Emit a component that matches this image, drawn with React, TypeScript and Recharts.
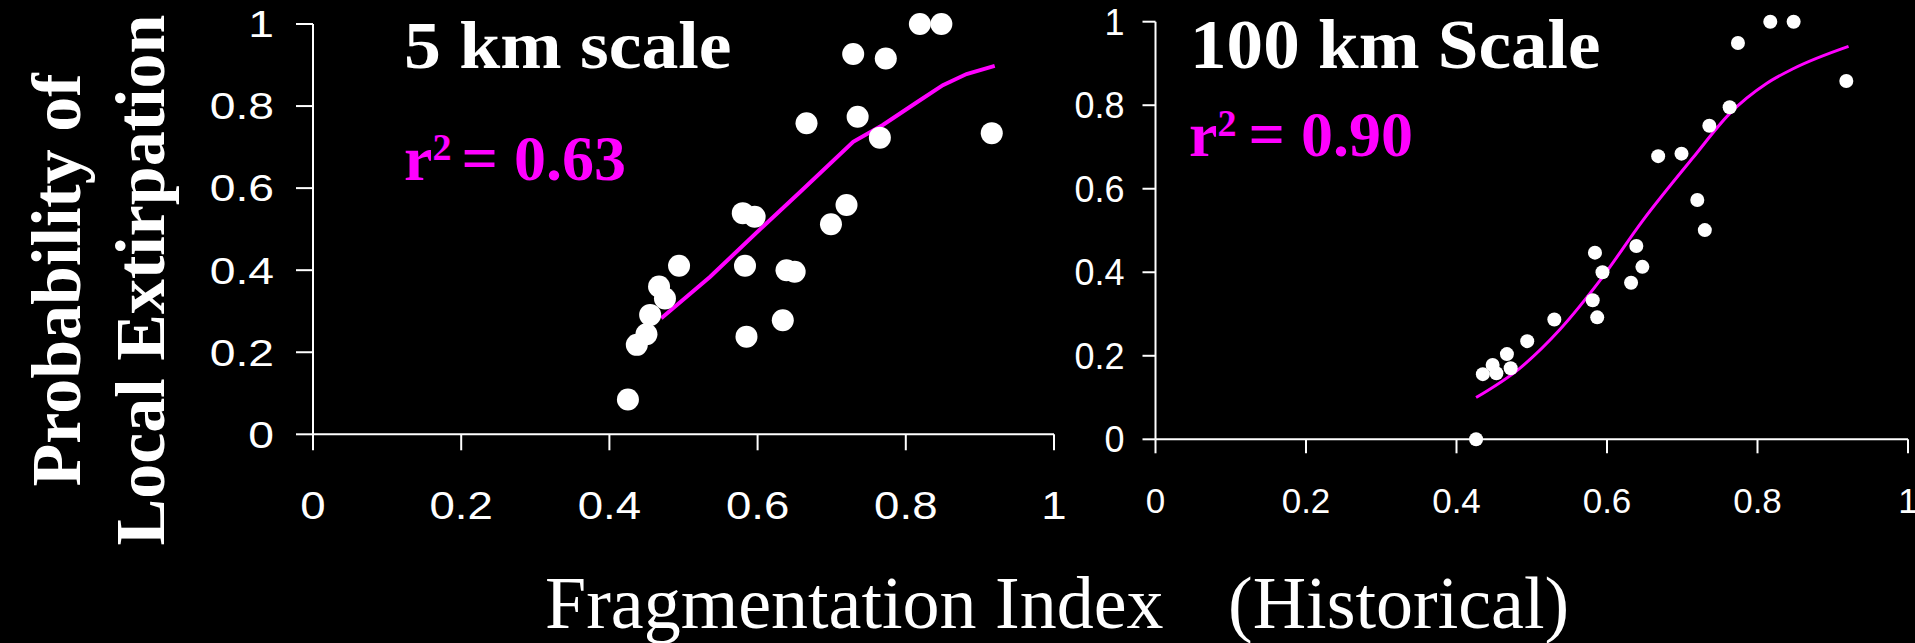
import React from 'react';
import { ComposedChart, Scatter, XAxis, YAxis } from 'recharts';

// ---------- data ----------
const axisTicks = [0, 0.2, 0.4, 0.6, 0.8, 1];

// 5 km scale observations
const km5X = [0.425, 0.437, 0.45, 0.455, 0.467, 0.475, 0.494, 0.58, 0.583, 0.585, 0.596, 0.634, 0.639, 0.65, 0.666, 0.699, 0.72, 0.729, 0.735, 0.765, 0.773, 0.819, 0.848, 0.916];
const km5Y = [0.085, 0.218, 0.244, 0.291, 0.36, 0.331, 0.411, 0.539, 0.411, 0.238, 0.53, 0.278, 0.4, 0.396, 0.758, 0.512, 0.559, 0.927, 0.774, 0.723, 0.916, 1.0, 1.0, 0.734];
// 5 km fitted curve
const km5FitX = [0.47, 0.536, 0.607, 0.657, 0.729, 0.769, 0.814, 0.85, 0.882, 0.92];
const km5FitY = [0.283, 0.384, 0.506, 0.59, 0.713, 0.754, 0.808, 0.851, 0.878, 0.898];

// 100 km scale observations
const km100X = [0.426, 0.435, 0.448, 0.453, 0.467, 0.472, 0.494, 0.53, 0.581, 0.584, 0.587, 0.594, 0.632, 0.639, 0.647, 0.668, 0.699, 0.72, 0.73, 0.736, 0.763, 0.774, 0.817, 0.848, 0.918];
const km100Y = [0.0, 0.156, 0.178, 0.158, 0.204, 0.17, 0.235, 0.287, 0.333, 0.447, 0.292, 0.4, 0.375, 0.463, 0.413, 0.678, 0.684, 0.573, 0.501, 0.751, 0.795, 0.949, 1.0, 1.0, 0.858];
// 100 km fitted curve
const km100FitX = [0.426, 0.484, 0.538, 0.591, 0.648, 0.715, 0.763, 0.812, 0.848, 0.921];
const km100FitY = [0.1, 0.17, 0.264, 0.381, 0.525, 0.676, 0.78, 0.852, 0.888, 0.941];

const titleLeft = '5 km scale';
const titleRight = '100 km Scale';
const r2Left = '0.63';
const r2Right = '0.90';
const yLabelLine1 = 'Probability of';
const yLabelLine2 = 'Local Extirpation';
const xLabelMain = 'Fragmentation Index';
const xLabelNote = '(Historical)';

// ---------- helpers ----------
const toPoints = (xs: number[], ys: number[]) => xs.map((x, i) => ({ x, y: ys[i] }));

const SANS = "'Liberation Sans', Arial, Helvetica, sans-serif";
const SERIF = "'Liberation Serif', 'Times New Roman', Times, serif";
const MAGENTA = '#ff00ff';

const makeTick = (orient: 'left' | 'bottom', fontSize: number, scaleX: number) => (props: any) => {
  const { x, y, payload } = props;
  return (
    <g transform={`translate(${x},${y})`}>
      <text
        transform={`scale(${scaleX},1)`}
        textAnchor={orient === 'left' ? 'end' : 'middle'}
        dy={orient === 'left' ? '0.36em' : '0.71em'}
        fill="#ffffff"
        fontSize={fontSize}
        fontFamily={SANS}
      >
        {String(payload.value)}
      </text>
    </g>
  );
};

const dotShape = (r: number) => (p: any) => <circle cx={p.cx} cy={p.cy} r={r} fill="#ffffff" />;
const noShape = () => <g />;

interface PanelProps {
  pts: { x: number; y: number }[];
  fit: { x: number; y: number }[];
  width: number;
  margin: { top: number; right: number; left: number; bottom: number };
  yWidth: number;
  yTickSize: number;
  yTickMargin: number;
  xTickSize: number;
  xTickMargin: number;
  yFont: number;
  yScale: number;
  xFont: number;
  xScale: number;
  dotR: number;
  lineW: number;
  joint: 'linear' | 'monotoneX';
}

const Panel = (p: PanelProps) => (
  <ComposedChart width={p.width} height={643} margin={p.margin}>
    <XAxis
      type="number"
      dataKey="x"
      domain={[0, 1]}
      ticks={axisTicks}
      interval={0}
      height={60}
      tickSize={p.xTickSize}
      tickMargin={p.xTickMargin}
      axisLine={{ stroke: '#ffffff', strokeWidth: 2 }}
      tickLine={{ stroke: '#ffffff', strokeWidth: 2 }}
      tick={makeTick('bottom', p.xFont, p.xScale)}
    />
    <YAxis
      type="number"
      dataKey="y"
      domain={[0, 1]}
      ticks={axisTicks}
      interval={0}
      width={p.yWidth}
      tickSize={p.yTickSize}
      tickMargin={p.yTickMargin}
      axisLine={{ stroke: '#ffffff', strokeWidth: 2 }}
      tickLine={{ stroke: '#ffffff', strokeWidth: 2 }}
      tick={makeTick('left', p.yFont, p.yScale)}
    />
    <Scatter
      data={p.fit}
      line={{ stroke: MAGENTA, strokeWidth: p.lineW }}
      lineJointType={p.joint}
      shape={noShape}
      isAnimationActive={false}
    />
    <Scatter data={p.pts} shape={dotShape(p.dotR)} isAnimationActive={false} />
  </ComposedChart>
);

export default function App() {
  return (
    <div
      style={{
        position: 'absolute',
        left: 0,
        top: 0,
        width: 1915,
        height: 643,
        background: '#000000',
        overflow: 'hidden',
      }}
    >
      <div style={{ position: 'absolute', left: 0, top: 0 }}>
        <Panel
          pts={toPoints(km5X, km5Y)}
          fit={toPoints(km5FitX, km5FitY)}
          width={1100}
          margin={{ top: 24, right: 46, left: 213, bottom: 148.7 }}
          yWidth={100}
          yTickSize={17}
          yTickMargin={22}
          xTickSize={16}
          xTickMargin={42}
          yFont={37}
          yScale={1.25}
          xFont={38}
          xScale={1.2}
          dotR={11}
          lineW={4}
          joint="linear"
        />
      </div>
      <div style={{ position: 'absolute', left: 1000, top: 0 }}>
        <Panel
          pts={toPoints(km100X, km100Y)}
          fit={toPoints(km100FitX, km100FitY)}
          width={915}
          margin={{ top: 21.7, right: 7, left: 55.5, bottom: 143.7 }}
          yWidth={100}
          yTickSize={13}
          yTickMargin={18}
          xTickSize={14}
          xTickMargin={35}
          yFont={36}
          yScale={1.0}
          xFont={35}
          xScale={1.0}
          dotR={7}
          lineW={3}
          joint="monotoneX"
        />
      </div>
      <svg
        width={1915}
        height={643}
        style={{ position: 'absolute', left: 0, top: 0, pointerEvents: 'none' }}
      >
        {/* panel titles */}
        <text transform="translate(404,68) scale(1.1,1)" fill="#ffffff" fontFamily={SERIF} fontWeight="bold" fontSize={67}>
          {titleLeft}
        </text>
        <text transform="translate(1190,68) scale(1.06,1)" fill="#ffffff" fontFamily={SERIF} fontWeight="bold" fontSize={69}>
          {titleRight}
        </text>
        {/* r squared */}
        <text x={404} y={180} fill={MAGENTA} fontFamily={SERIF} fontWeight="bold" fontSize={64}>
          r<tspan fontSize={38} dy={-20}>2</tspan>
          <tspan dy={20} dx={10}>{'= ' + r2Left}</tspan>
        </text>
        <text x={1189} y={156} fill={MAGENTA} fontFamily={SERIF} fontWeight="bold" fontSize={64}>
          r<tspan fontSize={38} dy={-20}>2</tspan>
          <tspan dy={20} dx={12}>{'= ' + r2Right}</tspan>
        </text>
        {/* y axis label */}
        <text transform="translate(80,280) rotate(-90)" textAnchor="middle" fill="#ffffff" fontFamily={SERIF} fontWeight="bold" fontSize={70}>
          {yLabelLine1}
        </text>
        <text transform="translate(164,280) rotate(-90)" textAnchor="middle" fill="#ffffff" fontFamily={SERIF} fontWeight="bold" fontSize={70}>
          {yLabelLine2}
        </text>
        {/* x axis label */}
        <text y={628} fill="#ffffff" fontFamily={SERIF} fontSize={74}>
          <tspan x={545}>{xLabelMain}</tspan>
          <tspan x={1228}>{xLabelNote}</tspan>
        </text>
      </svg>
    </div>
  );
}
